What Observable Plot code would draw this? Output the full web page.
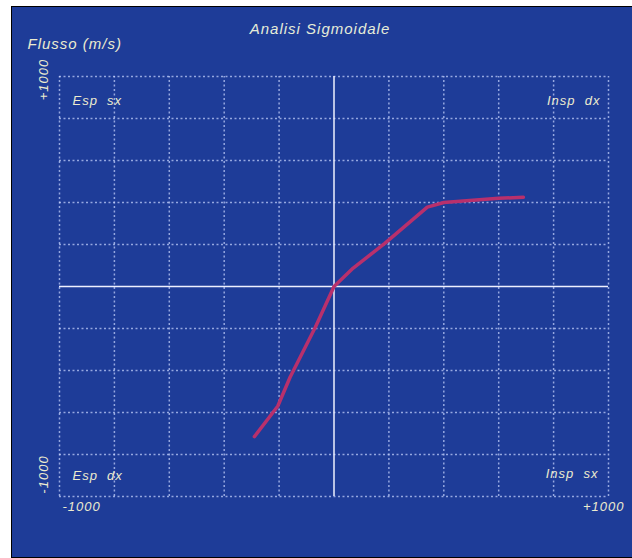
<!DOCTYPE html>
<html>
<head>
<meta charset="utf-8">
<script src="https://cdn.jsdelivr.net/npm/d3@7"></script>
<script src="https://cdn.jsdelivr.net/npm/@observablehq/plot@0.6"></script>
<style>
  html, body { margin: 0; padding: 0; background: #ffffff; overflow: hidden; }
  #panel {
    margin-left: 11px; margin-top: 6px;
    width: 621px; height: 550px;
    background: #1e3c98;
    border-left: 1px solid #000; border-top: 1px solid #000; border-bottom: 1px solid #000;
    font-family: "Liberation Sans", Arial, sans-serif;
  }
  #panel svg { display: block; }
</style>
</head>
<body>
<div id="panel"></div>
<script>
// ---- data ----
const chartTitle = "Analisi Sigmoidale";
const yAxisTitle = "Flusso (m/s)";
const gridValues = [-1000, -800, -600, -400, -200, 0, 200, 400, 600, 800, 1000];
const xTickValues = [-1000, 1000];
const xTickLabels = ["-1000", "+1000"];
const yTickValues = [1000, -1000];
const yTickLabels = ["+1000", "-1000"];
const quadrantLabels = ["Esp  sx", "Insp  dx", "Esp  dx", "Insp  sx"];
const quadrantX = [-1000, 1000, -1000, 1000];
const quadrantY = [1000, 1000, -1000, -1000];
const flowX = [-290, -205, -160, -68, 0, 70, 185, 340, 400, 600, 690];
const flowY = [-715, -570, -432, -194, 0, 88, 205, 378, 400, 420, 425];

// ---- build ----
const curve = flowX.map((x, i) => ({x, y: flowY[i]}));
const gridNoZero = gridValues.filter(v => v !== 0);
const textColor = "#ecebcf";
const font = "Liberation Sans, Arial, sans-serif";
const quad = quadrantLabels.map((t, i) => ({t, x: quadrantX[i], y: quadrantY[i]}));
const lbl = {fill: textColor, fontSize: 13, fontStyle: "italic", fontFamily: font};

const chart = Plot.plot({
  width: 621,
  height: 550,
  marginLeft: 47,
  marginRight: 25,
  marginTop: 69,
  marginBottom: 61,
  style: {background: "transparent", overflow: "visible", fontFamily: font, letterSpacing: "1px"},
  x: {domain: [-1000, 1000], axis: null},
  y: {domain: [-1000, 1000], axis: null},
  marks: [
    Plot.ruleX(gridNoZero, {x: d => d, y1: -1000, y2: 1000, stroke: "#c9d6ff", strokeOpacity: 0.7, strokeWidth: 1.5, strokeDasharray: "2,2.5"}),
    Plot.ruleY(gridNoZero, {y: d => d, x1: -1000, x2: 1000, stroke: "#c9d6ff", strokeOpacity: 0.7, strokeWidth: 1.5, strokeDasharray: "2,2.5"}),
    Plot.ruleX([0], {y1: -1000, y2: 1000, stroke: "#eef0ff", strokeWidth: 1.5}),
    Plot.ruleY([0], {x1: -1000, x2: 1000, stroke: "#eef0ff", strokeWidth: 1.5}),
    Plot.line(curve, {x: "x", y: "y", stroke: "#b8306c", strokeWidth: 3.5, strokeLinejoin: "round", strokeLinecap: "round"}),
    // quadrant labels
    Plot.text(quad.filter(d => d.x < 0 && d.y > 0), {x: "x", y: "y", text: "t", textAnchor: "start", dx: 13, dy: 24, ...lbl}),
    Plot.text(quad.filter(d => d.x > 0 && d.y > 0), {x: "x", y: "y", text: "t", textAnchor: "end", dx: -8, dy: 24, ...lbl}),
    Plot.text(quad.filter(d => d.x < 0 && d.y < 0), {x: "x", y: "y", text: "t", textAnchor: "start", dx: 13, dy: -21, ...lbl}),
    Plot.text(quad.filter(d => d.x > 0 && d.y < 0), {x: "x", y: "y", text: "t", textAnchor: "end", dx: -10, dy: -23, ...lbl}),
    // x tick labels
    Plot.text([0], {x: () => xTickValues[0], y: -1000, text: () => xTickLabels[0], textAnchor: "start", dx: 3, dy: 10, ...lbl}),
    Plot.text([0], {x: () => xTickValues[1], y: -1000, text: () => xTickLabels[1], textAnchor: "end", dx: 16, dy: 10, ...lbl}),
    // y tick labels (rotated)
    Plot.text([0], {x: -1000, y: () => yTickValues[0], text: () => yTickLabels[0], rotate: -90, dx: -16, dy: 3, ...lbl}),
    Plot.text([0], {x: -1000, y: () => yTickValues[1], text: () => yTickLabels[1], rotate: -90, dx: -16, dy: -22, ...lbl}),
    // titles
    Plot.text([chartTitle], {frameAnchor: "top", text: d => d, dx: -14, dy: -53, fill: "#e6ecd8", fontSize: 15, fontStyle: "italic", fontFamily: font}),
    Plot.text([yAxisTitle], {frameAnchor: "top-left", text: d => d, textAnchor: "start", dx: -32, dy: -38, fill: textColor, fontSize: 15, fontStyle: "italic", fontFamily: font})
  ]
});
document.getElementById("panel").appendChild(chart);
</script>
</body>
</html>
